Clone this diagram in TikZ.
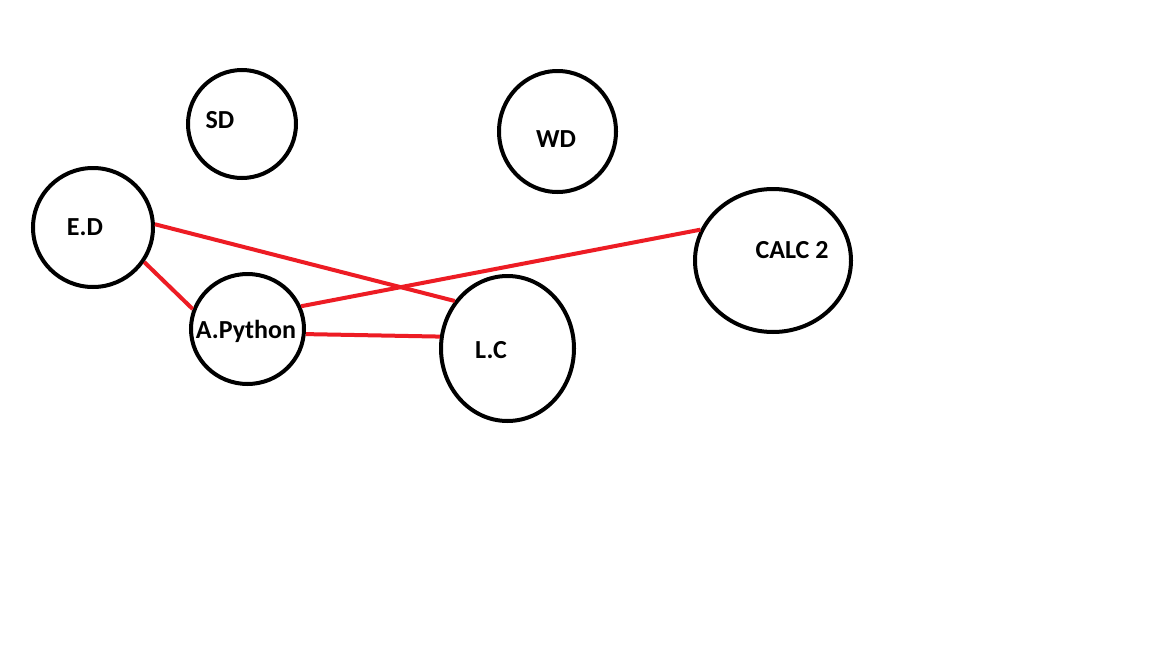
\documentclass[tikz,border=0pt]{standalone}
\usepackage{fontspec}
\setmainfont{Carlito}
\usetikzlibrary{shapes.geometric}
\definecolor{paintred}{RGB}{237,28,36}
\tikzset{
  circ/.style={ellipse, draw=black, line width=4pt, inner sep=0pt},
  lbl/.style={font=\bfseries\fontsize{26}{30}\selectfont, inner sep=0pt},
  link/.style={draw=paintred, line width=4pt}
}
\begin{document}
\begin{tikzpicture}[x=1pt,y=-1pt]
\useasboundingbox[fill=white] (0,0) rectangle (1152,648);
\node[circ, minimum width=108pt, minimum height=108pt] (sd) at (242,124) {};
\node[circ, minimum width=117pt, minimum height=121pt] (wd) at (557.5,131.5) {};
\node[circ, minimum width=120pt, minimum height=119pt] (ed) at (93,227.5) {};
\node[circ, minimum width=113pt, minimum height=110pt] (ap) at (247.5,329) {};
\node[circ, minimum width=133pt, minimum height=145pt] (lc) at (507.5,348.5) {};
\node[circ, minimum width=156pt, minimum height=143pt] (calc) at (773,260.5) {};
\node[lbl] (sdt) at (220,120) {SD};
\node[lbl] (wdt) at (556,139) {WD};
\node[lbl] (edt) at (85,227) {E.D};
\node[lbl] (apt) at (246,331) {A.Python};
\node[lbl] (lct) at (491,350) {L.C};
\node[lbl] (calct) at (792,250) {CALC 2};
\draw[link] (ed.3) -- (lc.138.5);
\draw[link] (ed.-34) -- (ap.160.8);
\draw[link] (ap.23.5) -- (calc.157.3);
\draw[link] (ap.-5.4) -- (lc.170);
\end{tikzpicture}
\end{document}
